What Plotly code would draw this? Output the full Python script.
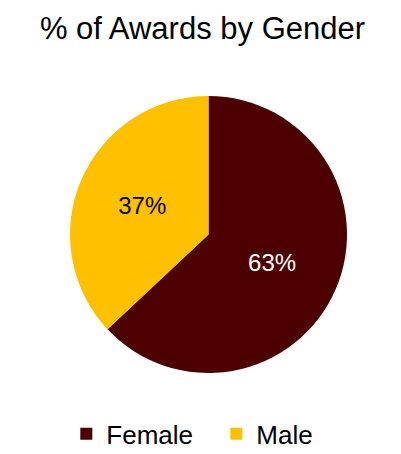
import plotly.graph_objs as go

labels = ['Female', 'Male']
values = [63, 37]
colors = ['#4D0000', '#FFC000']
text_colors = ['white', 'black']

fig = go.Figure()

fig.add_trace(go.Pie(labels=labels, values=values,
                     sort=False, direction='clockwise', rotation=0,
                     marker=dict(colors=colors, line=dict(width=0)),
                     textinfo='percent', texttemplate='%{percent:.0%}',
                     textposition='inside', insidetextorientation='horizontal',
                     textfont=dict(size=24, color=text_colors,
                                   family='Liberation Sans, Arial, sans-serif'),
                     hoverinfo='label+percent'))

fig.update_layout(
    width=401, height=454,
    margin=dict(l=5, r=5, t=88, b=79),
    paper_bgcolor='white',
    plot_bgcolor='white',
    font=dict(family='Liberation Sans, Arial, sans-serif', color='black'),
    title=dict(text='% of Awards by Gender', x=0.485, xanchor='center',
               y=0.955, yanchor='middle',
               font=dict(size=31, color='black')),
    legend=dict(orientation='h', x=0.52, xanchor='center',
                y=-0.22, yanchor='middle',
                font=dict(size=26), itemsizing='constant',
                entrywidth=105, entrywidthmode='pixels'),
)

fig.write_html("out.html")
